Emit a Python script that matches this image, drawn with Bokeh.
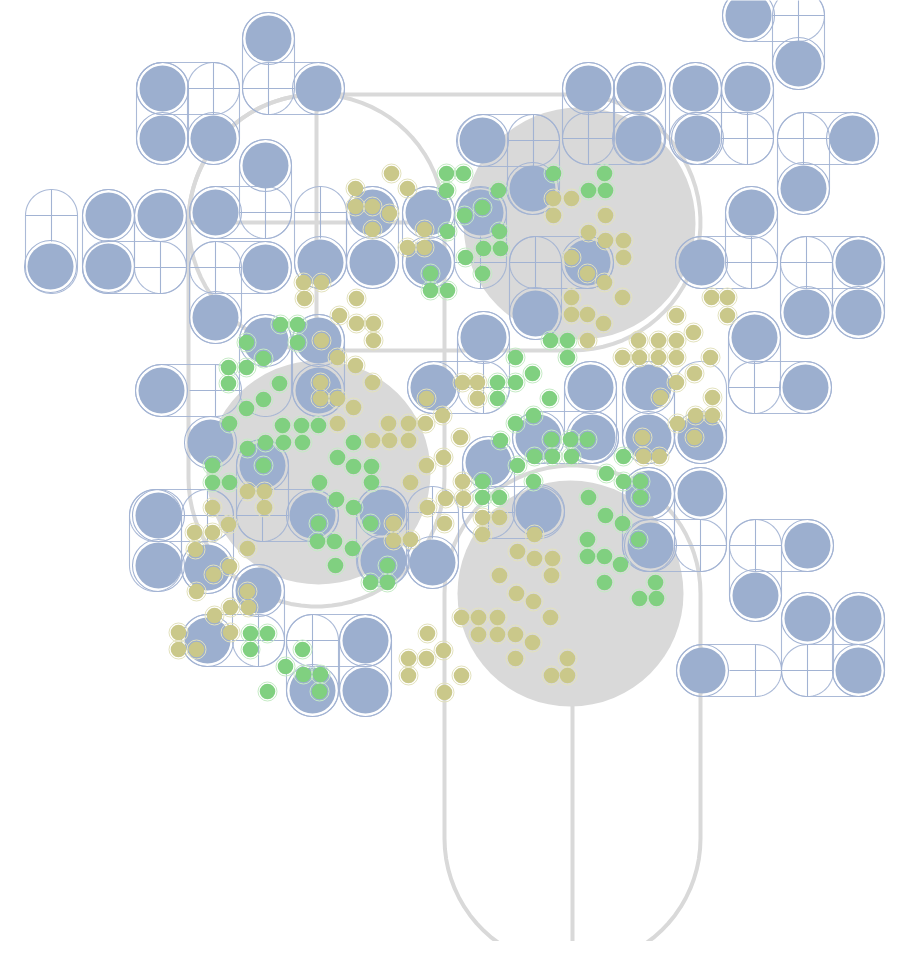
import numpy as np
from bokeh.plotting import figure
from bokeh.models import Range1d
from bokeh.embed import file_html
from bokeh.resources import INLINE

# ---------------- data (image pixel coordinates) ----------------
grey_cx = [579, 318, 570]
grey_cy = [223, 472, 593]
grey_r = [116, 112, 113]

# grey stadium outlines: pairs of cell centres
grey_stad = [(316, 222, 572, 222), (316, 222, 316, 478), (572, 593, 572, 838)]
grey_lines = [(188, 222, 444, 222), (316, 94, 316, 350), (572, 700, 572, 966)]

blue_x = [268, 162, 318, 162, 213, 265,
          748, 798, 588, 639, 695, 747, 638, 697, 852, 803, 751, 701, 858, 806, 858, 754,
          482, 532, 587, 535,
          108, 160, 215, 372, 428, 480,
          50, 108, 265, 320, 372, 428,
          215, 265, 318, 483,
          161, 318, 433, 590, 648, 805,
          210, 262, 538, 592, 648, 700, 488,
          158, 312, 382, 538, 648, 700,
          158, 207, 383, 432, 650, 807,
          258, 755, 807, 858,
          207, 365,
          312, 365, 702, 858]
blue_y = [38, 88, 88, 138, 138, 165,
          15, 63, 88, 88, 88, 88, 138, 138, 138, 188, 212, 262, 262, 312, 312, 337,
          140, 188, 262, 313,
          215, 215, 212, 212, 212, 212,
          266, 266, 267, 262, 262, 262,
          317, 340, 340, 337,
          390, 390, 387, 387, 387, 387,
          442, 465, 437, 437, 437, 437, 462,
          515, 515, 512, 510, 493, 493,
          565, 567, 560, 562, 545, 545,
          590, 595, 618, 618,
          640, 640,
          690, 690, 670, 670]

blue_stad = [
    (748, 15, 798, 15), (798, 15, 798, 63),
    (588, 88, 588, 138), (639, 88, 639, 138), (588, 138, 639, 138),
    (695, 88, 695, 138), (747, 88, 747, 138), (695, 138, 747, 138),
    (803, 138, 852, 138), (803, 138, 803, 188),
    (751, 212, 751, 262), (701, 262, 751, 262),
    (806, 262, 806, 312), (858, 262, 858, 312), (806, 262, 858, 262),
    (754, 337, 754, 387), (754, 387, 805, 387),
    (648, 387, 648, 437), (700, 387, 700, 437),
    (648, 493, 648, 545), (700, 493, 700, 545), (648, 545, 700, 545),
    (755, 545, 807, 545), (755, 545, 755, 595),
    (807, 618, 807, 670), (858, 618, 858, 670), (807, 670, 858, 670),
    (702, 670, 755, 670),
    (162, 88, 162, 138), (213, 88, 213, 138), (162, 88, 213, 88),
    (268, 38, 268, 88), (268, 88, 318, 88),
    (265, 165, 265, 212), (215, 212, 265, 212),
    (215, 267, 265, 267), (215, 267, 215, 317),
    (51, 215, 51, 267),
    (108, 215, 108, 267), (160, 215, 160, 267), (108, 267, 160, 267),
    (161, 390, 215, 390),
    (483, 140, 533, 140), (533, 140, 533, 188),
    (320, 212, 320, 262), (372, 212, 372, 262), (428, 212, 428, 262),
    (480, 213, 480, 262),
    (535, 262, 535, 313), (535, 262, 587, 262),
    (265, 340, 265, 390), (318, 340, 318, 390),
    (433, 387, 483, 387), (483, 337, 483, 387),
    (590, 387, 590, 437), (538, 437, 592, 437),
    (262, 465, 262, 515), (262, 515, 312, 515),
    (155, 515, 155, 565), (207, 515, 207, 567), (155, 515, 207, 515),
    (258, 590, 258, 640), (207, 640, 258, 640),
    (312, 640, 312, 690), (365, 640, 365, 690), (312, 640, 365, 640),
    (382, 512, 382, 560), (432, 512, 432, 562),
    (488, 462, 488, 512), (488, 512, 538, 512),
]
blue_cross_x = [798, 588, 747, 803, 751, 806, 754, 700, 755, 807, 755, 213, 268, 265, 215,
                51, 160, 215, 207, 258, 312, 320, 480, 535, 483, 262, 432, 488, 533]
blue_cross_y = [15, 138, 138, 138, 262, 262, 387, 545, 545, 670, 670, 88, 88, 212, 267,
                215, 267, 390, 515, 640, 640, 212, 262, 262, 387, 515, 512, 512, 140]

green_x = [446, 463, 446, 464, 447, 465, 430, 430, 447,
           280, 297, 246, 297, 263, 228, 246, 228, 279, 263, 246, 229, 282, 301, 318,
           498, 553, 604, 588, 605, 482, 499, 483, 500, 482,
           550, 567, 515, 567, 532, 497, 515, 497, 549,
           247, 265, 283, 302, 353, 212, 263, 337, 353, 371, 212, 229, 319, 371, 336, 353,
           318, 370, 317, 334, 352, 335, 387, 370, 387, 250, 267, 250, 302, 285, 303, 320, 319, 267,
           533, 515, 500, 551, 570, 587, 534, 552, 571, 623, 517, 606, 482, 533, 623, 640,
           482, 499, 588, 640, 605, 622, 587, 638, 587, 604, 620, 604, 655, 639, 656]
green_y = [173, 173, 190, 215, 231, 257, 273, 290, 290,
           324, 324, 342, 342, 358, 367, 367, 383, 383, 399, 408, 423, 425, 425, 425,
           190, 173, 173, 190, 190, 207, 231, 248, 248, 273,
           340, 340, 357, 357, 373, 382, 382, 398, 398,
           448, 442, 442, 442, 442, 465, 465, 457, 466, 466, 482, 482, 482, 482, 499, 507,
           523, 523, 541, 541, 548, 565, 565, 582, 582, 633, 633, 649, 649, 666, 674, 674, 691, 691,
           415, 423, 440, 439, 439, 439, 456, 456, 456, 456, 465, 473, 481, 481, 481, 481,
           497, 497, 497, 497, 515, 523, 539, 539, 556, 556, 564, 582, 582, 598, 598]

yellow_x = [391, 355, 407, 355, 372, 389, 372, 424, 407, 424, 303, 321, 304, 356, 339, 356, 373,
            373, 321, 337, 355, 372, 320, 320, 337, 353, 337, 388, 408, 425, 442, 426, 462, 477, 477,
            553, 571, 553, 605, 588, 605, 623, 571, 623, 587, 604, 571, 622, 571, 587, 603, 587,
            711, 727, 676, 727, 693, 638, 658, 676, 622, 639, 658, 676, 710, 694, 676, 660, 712,
            695, 712, 677, 694, 642, 460,
            372, 389, 408, 426, 410, 247, 264, 212, 264, 427, 228, 194, 212, 393, 393, 410, 247,
            195, 229, 213, 196, 247, 230, 248, 214, 178, 230, 178, 196, 427, 408, 426, 408,
            443, 462, 445, 463, 482, 499, 444, 482, 534, 643, 659, 517, 534, 552, 499, 551, 516,
            533, 461, 478, 497, 550, 478, 497, 515, 532, 443, 515, 567, 461, 551, 567, 444]
yellow_y = [173, 188, 188, 206, 206, 213, 229, 229, 247, 247, 282, 282, 298, 298, 315, 323, 323,
            340, 340, 357, 365, 382, 382, 398, 398, 407, 423, 423, 423, 423, 415, 398, 382, 382, 398,
            198, 198, 215, 215, 232, 240, 240, 257, 257, 273, 282, 297, 297, 314, 314, 323, 340,
            297, 297, 315, 315, 332, 340, 340, 340, 357, 357, 357, 357, 357, 373, 382, 397, 397,
            415, 415, 423, 437, 437, 437,
            440, 440, 440, 465, 482, 491, 491, 507, 507, 507, 524, 532, 532, 523, 540, 539, 548,
            549, 566, 574, 591, 591, 607, 607, 615, 632, 632, 649, 649, 633, 658, 658, 675,
            457, 481, 498, 498, 517, 517, 523, 534, 534, 456, 456, 551, 558, 558, 575, 575, 593,
            601, 617, 617, 617, 617, 634, 634, 634, 642, 650, 658, 658, 675, 675, 675, 692]

# ---------------- styles ----------------
GREY = "#d9d9d9"
BLUE = "#9cafcf"
BLUE_LINE = "#a2b3d3"
GREEN = "#80d080"
YELLOW = "#cac88a"


def stadium(x1, y1, x2, y2, r, n=40):
    th = np.arctan2(y2 - y1, x2 - x1)
    a1 = np.linspace(th - np.pi / 2, th + np.pi / 2, n)
    a2 = np.linspace(th + np.pi / 2, th + 3 * np.pi / 2, n)
    xs = np.concatenate([x2 + r * np.cos(a1), x1 + r * np.cos(a2)])
    ys = np.concatenate([y2 + r * np.sin(a1), y1 + r * np.sin(a2)])
    return list(xs), list(ys)


W, H = 892, 941
p = figure(width=W, height=H, x_range=Range1d(0, W), y_range=Range1d(H, 0),
           output_backend="svg", toolbar_location=None, min_border=0)
p.axis.visible = False
p.grid.visible = False
p.outline_line_color = None
p.background_fill_color = "white"
p.border_fill_color = "white"

# grey level
gx, gy = [], []
for s in grey_stad:
    a, b = stadium(*s, 128)
    gx.append(a)
    gy.append(b)
p.patches(gx, gy, fill_color=None, line_color=GREY, line_width=4)
p.segment(x0=[l[0] for l in grey_lines], y0=[l[1] for l in grey_lines],
          x1=[l[2] for l in grey_lines], y1=[l[3] for l in grey_lines],
          line_color=GREY, line_width=4)
p.circle(x=grey_cx, y=grey_cy, radius=grey_r, fill_color=GREY, line_color=None)

# blue level outlines
bx, by = [], []
for s in blue_stad:
    a, b = stadium(*s, 26)
    bx.append(a)
    by.append(b)
p.patches(bx, by, fill_color=None, line_color=BLUE_LINE, line_width=1.1, line_alpha=0.9)
cx = np.array(blue_cross_x, dtype=float)
cy = np.array(blue_cross_y, dtype=float)
p.segment(x0=cx - 26, y0=cy, x1=cx + 26, y1=cy, line_color=BLUE_LINE, line_width=1.1)
p.segment(x0=cx, y0=cy - 26, x1=cx, y1=cy + 26, line_color=BLUE_LINE, line_width=1.1)
p.circle(x=blue_x, y=blue_y, radius=26, fill_color=None, line_color=BLUE_LINE, line_width=1.1)
p.circle(x=blue_x, y=blue_y, radius=23, fill_color=BLUE, line_color=None)

# small dots
p.circle(x=yellow_x, y=yellow_y, radius=9.5, fill_color=None, line_color="#e3e2bd", line_width=1)
p.circle(x=green_x, y=green_y, radius=9.5, fill_color=None, line_color="#c5ebc5", line_width=1)
p.circle(x=yellow_x, y=yellow_y, radius=7.8, fill_color=YELLOW, line_color=None)
p.circle(x=green_x, y=green_y, radius=7.8, fill_color=GREEN, line_color=None)

open("out.html", "w").write(file_html(p, INLINE))
